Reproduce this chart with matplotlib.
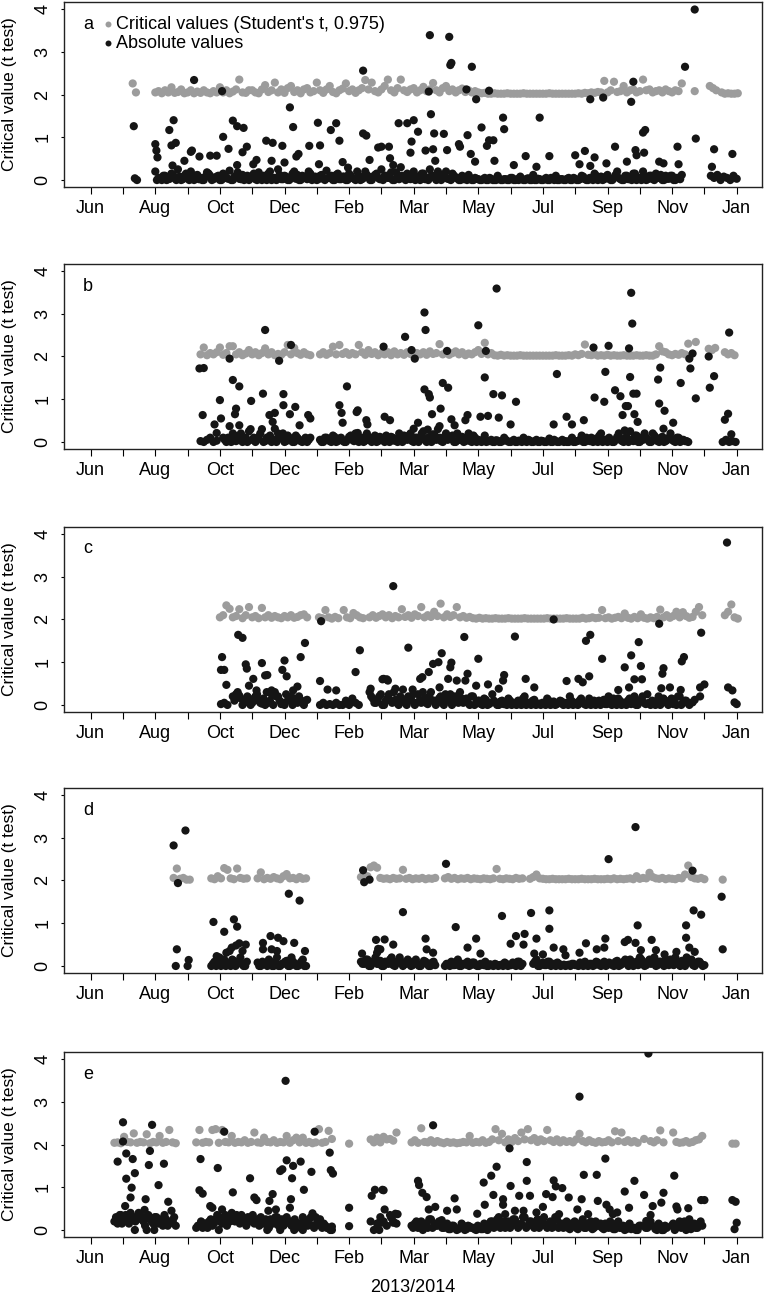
import matplotlib
matplotlib.use("Agg")
import matplotlib.pyplot as plt

plt.rcParams["font.family"] = ["Liberation Sans", "DejaVu Sans"]

GREY = "#9c9c9c"
BLACK = "#151515"

# x axis: days since the first tick ("Jun"), ticks every 30 days
TICK_DAYS = list(range(0, 601, 30))
TICK_LABELS = ["Jun", "", "Aug", "", "Oct", "", "Dec", "", "Feb", "", "Mar",
               "", "May", "", "Jul", "", "Sep", "", "Nov", "", "Jan"]
PANELS = ["a", "b", "c", "d", "e"]

# runs are (first day, values every 3 days); "-" = no value that day
# ── panel a ──────────────────────────────────────────────────────────────
GREY_A = [
    (39, "2.26 2.05"),
    (60, "2.05 2.08 2.03 2.1 2.05 2.17 2.04 2.06 2.12 2.03 "
         "2.05 2.1 2.03 2.07 2.04 2.1 2.05 2.03 2.08 2.05 "
         "2.17 2.05 2.1 2.03 2.07 2.12 2.35 2.05 2.04 2.1 "
         "2.1 2.05 2.03 2.12 2.22 2.06 2.1 2.28 2.05 2.12 "
         "2.04 2.15 2.2 2.06 2.1 2.03 2.12 2.15 2.05 2.08 "
         "2.28 2.1 2.04 2.12 2.2 2.06 2.03 2.1 2.14 2.26 "
         "2.08 2.12 2.04 2.1 2.15 2.34 2.12 2.28 2.08 2.05 "
         "2.12 2.2 2.35 2.1 2.05 2.15 2.35 2.1 2.06 2.12 "
         "2.15 2.05 2.1 2.18 2.08 2.12 2.27 2.1 2.05 2.15 "
         "2.2 2.08 2.12 2.05 2.1 2.14 2.06 2.1 2.05 2.08 "
         "2.05 2.03 2.04 2.02 2.02 2.03 2.02 2.02 2.02 2.03 "
         "2.02 2.02 2.02 2.02 2.03 2.02 2.02 2.02 2.02 2.02 "
         "2.02 2.02 2.03 2.02 2.02 2.02 2.02 2.02 2.02 2.02 "
         "2.02 2.03 2.02 2.04 2.03 2.05 2.04 2.06 2.05 2.32 "
         "2.05 2.1 2.3 2.06 2.08 2.2 2.05 2.1 2.12 2.05 "
         "2.08 2.35 2.1 2.12 2.05 2.08 2.1 2.05 2.12 2.08 "
         "2.05 2.1 2.08 2.26"),
    (561, "2.08"),
    (575, "2.2 2.15 2.1"),
    (586, "2.05 2.02 2.03 2.02 2.02 2.03"),
]
BLACK_A = [
    (60, ".2 .05 0 .1 .02 .15 .05 .25 0 .1 "
         ".05 .2 0 .12 .05 0 .18 .1 .02 .08 "
         "0 .15 .05 .22 0 .1 .03 .12 .05 0 "
         ".1 .02 .18 0 .08 .15 0 .05 .25 .02 "
         ".1 0 .05 .2 .12 0 .08 .02 .15 .05 "
         "0 .1 .03 .22 .05 0 .12 .02 .08 0 "
         ".15 .05 0 .1 .02 .2 .08 0 .12 .05 "
         ".25 .1 .05 .18 0 .12 .3 .05 .15 .02 "
         ".2 .08 0 .15 .05 .25 .1 0 .12 .05 "
         ".2 .02 .15 .05 0 .1 .03 .12 0 .05 "
         ".02 0 .05 0 .03 0 .1 0 .02 0 "
         ".05 0 .02 .08 0 .03 0 .12 0 .02 "
         "0 .05 0 .03 .1 0 .02 0 .05 0 "
         ".03 0 .1 .02 0 .05 .15 0 .08 .02 "
         ".12 0 .05 .2 .02 0 .1 .05 .15 0 "
         ".05 .2 0 .1 .02 .15 .05 0 .1 .03 "
         ".1 0 .05 .12"),
    (61.5, "0 .05 .1 0 .03 .12 0 .08 .02 .15 0 .05 .1 .02 0 .08 .15 0 .05 .1 "
           "0 .12 .03 0 .08 .18 .02 0 .1 .05 .15 0 .03 .1 0 .2 .05 0 .12 .02 "
           ".08 0 .15 .03 0 .1 .05 .2 0 .08 .02 .12 0 .05 .1 0 .15 .02 .08 0 "
           ".1 .03 .2 0 .05 .12 0 .08 .15 .02 0 .1 .05 0 .18 .02 .1 0 .05 .12 "
           "0 .08 .15 .02 0 .1 .05 .2 0 .12 .03 0 .1 .05 0 .02 0 .05 0 .03 "
           "0 .02 0 .05 0 0 .03 0 .02 0 .05 0 0 .02 0 .04 0 0 .03 0 "
           ".02 0 .05 0 0 .02 0 .03 0 .05 0 .02 .08 0 .05 0 .1 .02 0 .08 "
           ".03 0 .12 .05 0 .1 .02 0 .15 .05 0 .08 .02 .1 0 .05 .12 0 .03 .1 "
           "0 .05 .02"),
    (576, ".1 .05 .12 0 .08 .05 0 .1 .03"),
]
BLACK_A_PTS = [
    (40, 1.26), (41, 0.04), (43, 0.0), (60, 0.84), (61, 0.69), (62, 0.53),
    (73, 1.17), (77, 1.4), (75, 0.81), (79, 0.87), (76, 0.34), (87, 0.45),
    (93, 0.66), (94, 0.69), (96, 2.34), (101, 0.55), (111, 0.57), (117, 0.57),
    (122, 2.08), (123, 1.01), (128, 0.73), (132, 1.39), (136, 1.26), (142, 1.22),
    (141, 0.65), (145, 0.78), (136, 0.35), (151, 0.37), (154, 0.47), (163, 0.92),
    (169, 0.87), (168, 0.45), (178, 0.8), (180, 0.41), (185, 1.7), (188, 1.24),
    (191, 0.55), (193, 0.61), (203, 0.8), (211, 1.34), (213, 0.81), (212, 0.37),
    (223, 1.17), (228, 1.33), (231, 0.92), (234, 0.42), (239, 0.29), (253, 2.56),
    (253, 1.09), (256, 1.04), (259, 0.47), (267, 0.76), (270, 0.78), (277, 0.78),
    (278, 0.51), (281, 0.35), (286, 1.33), (294, 1.33), (300, 1.4), (304, 1.13),
    (298, 0.9), (297, 0.64), (311, 0.69), (314, 2.07), (315, 3.39), (316, 1.54),
    (318, 0.72), (319, 1.09), (320, 0.45), (328, 1.08), (331, 0.7), (333, 3.35),
    (334, 2.69), (335, 2.74), (342, 0.84), (343, 0.78), (349, 2.12), (350, 1.05),
    (354, 2.65), (353, 0.61), (358, 1.89), (357, 0.43), (363, 1.23), (368, 0.8),
    (370, 0.93), (370, 2.09), (374, 0.93), (375, 0.45), (383, 1.46), (384, 1.19),
    (393, 0.35), (404, 0.56), (414, 0.31), (417, 1.46), (426, 0.56), (450, 0.58),
    (454, 0.37), (459, 0.68), (464, 0.33), (464, 1.89), (468, 0.53), (476, 1.93),
    (479, 0.39), (487, 0.78), (498, 0.43), (502, 1.83), (504, 2.3), (506, 0.7),
    (507, 0.58), (513, 1.11), (515, 1.17), (514, 0.64), (528, 0.43), (532, 0.39),
    (545, 0.78), (546, 0.37), (552, 2.65), (561, 3.99), (562, 0.97), (579, 0.72),
    (577, 0.31), (596, 0.61),
]

# ── panel b ──────────────────────────────────────────────────────────────
GREY_B = [
    (102, "2.05 2.21 2.03 2.08 2.05 2.1 2.21 2.04 2.08 2.24 "
          "2.24 2.05 2.1 2.03 2.07 2.15 2.05 2.1 2.03 2.08 "
          "2.19 2.05 2.1 2.03 2.06 2.04 2.1 2.27 2.05 2.2 "
          "2.08 2.04 2.1 2.05 2.03"),
    (213, "2.05 2.1 2.04 2.08 2.23 2.05 2.27 2.06 2.1 2.04 "
          "2.08 2.05 2.27 2.1 2.04 2.15 2.06 2.1 2.03 2.08 "
          "2.05 2.1 2.03 2.12 2.05 2.08 2.04 2.1 2.06 2.03 "
          "2.08 2.05 2.1 2.04 2.12 2.06 2.08 2.29 2.05 2.1 "
          "2.04 2.08 2.12 2.05 2.1 2.03 2.07 2.05 2.1 2.15 "
          "2.06 2.32 2.05 2.08 2.03 2.02 2.04 2.02 2.03 2.02 "
          "2.02 2.02 2.03 2.02 2.02 2.02 2.02 2.02 2.02 2.02 "
          "2.02 2.02 2.02 2.03 2.02 2.02 2.02 2.03 2.02 2.05 "
          "2.03 2.06 2.28 2.04 2.03 2.05 2.02 2.03 2.02 2.04 "
          "2.02 2.03 2.02 2.02 2.03 2.02 2.02 2.02 2.03 2.02 "
          "2.02 2.03 2.02 2.02 2.05 2.24 2.12 2.1 2.05 2.03 "
          "2.06 2.04 2.08 2.05"),
    (555, "2.3"), (562, "2.34"),
    (574, "2.18 2.15 2.2"),
    (589, "2.1 2.05 2.08 2.03"),
]
BLACK_B = [
    (102, ".02 0 .05 .1 0 .03"),
    (123, ".1 0 .05 .2 .02 .15 0 .1 .25 .05 0 .12 .3 .02 .1 0 .05 .2 .08 0 "
          ".15 .05 0 .1 .02 .05 0 .1"),
    (124.5, ".05 .1 0 .15 .05 .2 .1 0 .3 .1 .05 .2 0 .1 .15 .05 0 .1 .2 .02 "
            ".1 0 .15 .05 0 .1 .05"),
    (213, ".05 0 .1 .02 .15 0 .08 .03 0 .12 "
          ".05 .2 0 .1 .03 .05 0 .15 .02 .1 "
          "0 .05 .12 .03 0 .1 .15 .05 .2 0 "
          ".1 .05 .25 0 .12 .18 .05 .1 0 .2 "
          ".08 .15 0 .05 .12 .02 .2 0 .1 .05 "
          "0 .15 .02 .05 0 .03 0 .1 .02 0 "
          ".05 0 .02 .1 0 .03 0 .05 0 .02 "
          "0 .08 0 .02 0 .05 .02 0 .1 0 "
          ".03 .15 0 .05 .1 .02 0 .2 .05 0 "
          ".03 0 .12 .05 0 .1 .25 .02 .15 0 "
          ".05 .1 0 .2 .05 0 .12 .02 .1 .05 "
          "0 .1 .05 .02 0"),
    (214.5, "0 .1 .05 0 .12 .02 .1 0 .05 .15 .02 .1 .05 0 .2 .1 .03 0 .12 .05 "
            ".15 0 .1 .05 .2 0 .08 .15 .02 .1 0 .2 .05 .1 0 .15 .3 .02 .12 .05 "
            ".1 0 .2 .05 0 .1 .02 .15 0 .03 .05 0 .02 0 .04 0 .02 .05 0 .02 "
            "0 .03 0 .02 .05 0 .02 0 .03 0 .02 0 .05 0 .02 0 0 .04 0 .02 "
            ".05 0 .1 .02 0 .08 .15 0 .05 .1 0 .05 .2 .02 .1 0 .05 .15 0 .1 "
            ".2 .05 0 .15 .02 .1 0 .05 .2 .02 .1 0 .05 .02"),
    (587, "0 .05 0 .02 0"),
]
BLACK_B_PTS = [
    (101, 1.72), (105, 1.73), (104, 0.63), (120, 0.98), (121, 0.55), (115, 0.41),
    (117, 0.21), (129, 1.95), (129, 0.37), (132, 1.45), (135, 0.78), (134, 0.65),
    (138, 1.3), (138, 0.39), (149, 0.96), (160, 1.13), (162, 2.62), (166, 0.63),
    (171, 0.68), (169, 0.47), (171, 0.31), (175, 1.9), (179, 1.12), (179, 0.86),
    (186, 2.27), (185, 0.65), (190, 0.82), (194, 0.39), (202, 0.63), (204, 0.55),
    (231, 0.86), (233, 0.68), (234, 0.45), (238, 1.3), (247, 0.7), (248, 0.74),
    (248, 0.21), (256, 0.51), (257, 0.41), (272, 2.23), (273, 0.59), (278, 0.51),
    (292, 2.46), (298, 2.15), (301, 1.95), (300, 0.31), (304, 0.45), (310, 3.03),
    (311, 2.62), (310, 1.23), (314, 1.12), (315, 1.04), (317, 0.65), (313, 0.29),
    (325, 0.78), (324, 0.37), (327, 1.38), (332, 1.27), (331, 2.13), (335, 0.53),
    (338, 0.39), (350, 0.63), (348, 0.51), (360, 2.73), (367, 2.13), (366, 1.51),
    (362, 0.59), (369, 0.61), (374, 1.12), (382, 1.09), (377, 3.59), (379, 0.57),
    (390, 0.41), (395, 0.94), (433, 1.59), (430, 0.41), (442, 0.59), (447, 0.41),
    (458, 0.51), (467, 2.21), (468, 1.04), (477, 0.94), (478, 1.64), (481, 2.25),
    (487, 1.21), (492, 1.07), (494, 0.63), (496, 0.27), (497, 0.84), (499, 0.84),
    (500, 2.19), (501, 1.52), (502, 3.49), (503, 2.77), (504, 1.13), (507, 1.13),
    (505, 0.65), (508, 0.47), (527, 1.46), (529, 1.74), (528, 0.9), (533, 0.73),
    (532, 0.31), (541, 0.45), (548, 1.38), (556, 1.95), (559, 2.07), (557, 1.72),
    (562, 1.02), (574, 2.0), (575, 1.27), (579, 1.54), (589, 0.52), (592, 0.66),
    (593, 2.56), (595, 0.18),
]

# ── panel c ──────────────────────────────────────────────────────────────
GREY_C = [
    (120, "2.05 2.1 2.33 2.25 2.05 2.08 2.24 2.03 2.1 2.29 "
          "2.05 2.08 2.03 2.27 2.05 2.1 2.04 2.08 2.05 2.03 "
          "2.08 2.05 2.1 2.04 2.06 2.1 2.12 2.05"),
    (212, "2.05 2.03 2.22 2.05 2.02 2.06 2.03"),
    (235, "2.22 2.05 2.03 2.15 2.1 2.05 2.03"),
    (259, "2.05 2.1 2.04 2.08 2.12 2.05 2.1 2.03 2.08 2.05 "
          "2.24 2.06 2.1 2.04 2.12 2.08 2.29 2.05 2.1 2.06 "
          "2.18 2.08 2.37 2.05 2.12 2.06 2.1 2.29 2.05 2.08 "
          "2.04 2.06 2.03 2.02 2.04 2.02 2.03 2.02 2.02 2.03 "
          "2.02 2.02 2.02 2.03 2.02 2.02 2.02 2.02 2.03 2.02 "
          "2.02 2.02 2.02 2.02 2.02 2.03 2.02 2.02 2.02 2.02 "
          "2.02 2.03 2.02 2.02 2.02 2.02 2.04 2.02 2.03 2.05 "
          "2.03 2.04 2.22 2.03 2.05 2.02 2.04 2.06 2.03 2.14 "
          "2.04 2.02 2.06 2.03 2.12 2.04 2.02 2.05 2.03 2.06 "
          "2.23 2.05 2.1 2.04 2.08 2.18 2.05 2.17 2.08 2.04 "
          "2.06 2.18 2.29 2.1"),
    (589, "2.1 2.18 2.35 2.05 2.02"),
]
BLACK_C = [
    (121, ".02 .05 0"),
    (132, ".2 .25 .22 0 .1 .15 .05 .2 .1 .03 0 .05 .25 .3 .2 .02 0 .1 .2 .15 "
          ".05 .1 0 .12"),
    (133.5, ".1 .3 .15 .05 .2 0 .1 .25 .05 .15 .3 .1 0 .2 .1 .05 .25 .15 0 .1 "
            ".2 .05 .1"),
    (213, "0 .05 0 .02 0 .05 0"),
    (234, "0 .1 0 .15 .05 0"),
    (259, ".3 .15 .05 .2 0 .1 .25 .05 .12 0 "
          ".15 .05 .2 .1 0 .25 .05 .15 .02 .3 "
          ".1 .05 .2 0 .15 .25 .05 .1 .3 .05 "
          ".15 0 .2 .05 .1 0 .12 .02 .25 .05 "
          "0 .1 .05 .15 0 .02 .1 0 .2 .05 "
          "0 .12 .02 0 .05 .15 0 .08 .02 .1 "
          "0 .05 .2 0 .02 .1 .05 0 .15 .02 "
          "0 .1 .05 .02 .2 0 .08 .15 0 .05 "
          ".1 .02 .2 0 .12 .05 .25 0 .05 .1 "
          "0 .15 .05 .1 .02 0 .2 .05 .1 0"),
    (260.5, ".2 .05 .1 .25 0 .15 .1 .3 .05 .2 .1 0 .15 .25 .05 .1 .3 .05 .2 .1 "
            "0 .15 .05 .25 .1 0 .2 .05 .15 .1 .05 .2 0 .1 .02 .15 0 .05 .1 0 "
            ".08 .02 0 .1 .05 0 .02 .15 0 .05 .1 0 .03 .05 0 .1 .02 0 .05 .08 "
            ".02 0 .1 .05 0 .15 .02 .05 0 .1 .05 0 .12 .02 .05 .15 0 .1 .05 0 "
            ".15 .05 0 .1 .2 .02 .05 .1 0 .2 .05 .1 0 .15 .05 .2 0 .1 .05"),
]
BLACK_C_PTS = [
    (122, 1.12), (121, 0.82), (124, 0.82), (126, 0.47), (137, 1.64), (141, 1.57),
    (144, 0.95), (145, 0.85), (151, 0.61), (147, 0.45), (154, 0.34), (159, 0.98),
    (162, 0.69), (164, 0.7), (168, 0.34), (172, 0.22), (178, 0.82), (180, 1.04),
    (182, 0.67), (188, 0.34), (192, 0.43), (195, 1.12), (199, 1.45), (214, 1.96),
    (213, 0.56), (220, 0.36), (228, 0.34), (246, 0.77), (250, 1.28), (260, 0.38),
    (271, 0.6), (276, 0.57), (281, 2.78), (272, 0.61), (275, 0.6), (283, 0.38),
    (290, 0.36), (299, 0.36), (295, 1.34), (306, 0.61), (308, 0.65), (314, 0.77),
    (318, 0.96), (323, 1.0), (326, 1.21), (324, 0.41), (334, 0.88), (335, 0.99),
    (332, 0.61), (340, 0.57), (348, 0.57), (350, 0.73), (347, 1.59), (360, 1.08),
    (358, 0.45), (369, 0.48), (379, 0.38), (384, 0.7), (383, 0.57), (394, 1.6),
    (404, 0.61), (412, 0.41), (430, 2.0), (442, 0.56), (453, 0.61), (457, 0.53),
    (463, 0.67), (460, 1.5), (464, 1.64), (475, 1.08), (490, 0.35), (496, 0.88),
    (500, 0.41), (502, 1.16), (505, 0.6), (509, 1.47), (511, 0.91), (512, 0.6),
    (528, 1.9), (531, 0.73), (532, 0.86), (530, 0.39), (538, 0.41), (549, 1.02),
    (551, 1.12), (548, 0.35), (559, 0.06), (561, 0.12), (566, 0.2), (566, 0.41),
    (570, 0.48), (567, 1.69), (591, 3.8), (592, 0.41), (596, 0.34), (598, 0.06),
    (600, 0.02),
]

# ── panel d ──────────────────────────────────────────────────────────────
GREY_D = [
    (77, "2.06 2.28 2.04 2.06 2.02 2.02"),
    (112, "2.05 2.03 2.1 2.05 2.29 2.25 2.05 2.03 2.28 2.06 2.04 2.05"),
    (155, "2.05 2.19 2.03 2.06 2.04 2.08 2.05 2.03 2.1 2.15 2.05 2.06 2.03 "
          "2.08 2.04 2.05"),
    (251, "2.08 2.05 2.1 2.31 2.35 2.3 2.06 2.04 2.05 2.03 2.06 2.04 2.05 "
          "2.25 2.04 2.06 2.03 2.05 2.04 2.06 2.03 2.05 2.04 2.06"),
    (329, "2.05 2.08 2.04 2.06 2.03 2.05 2.04 2.06 2.03 2.05 2.04 2.03 2.05 "
          "2.04 2.03 2.05 2.27 2.04 2.03 2.05 2.04 2.03 2.06 2.04 2.05"),
    (408, "2.04 2.08 2.14 2.05 2.04 2.03 2.03 2.04 2.03 2.03 "
          "2.03 2.03 2.04 2.03 2.03 2.03 2.04 2.03 2.03 2.03 "
          "2.04 2.03 2.03 2.03 2.04 2.03 2.05 2.03 2.04 2.03 "
          "2.04 2.05 2.03 2.1 2.04 2.06 2.05 2.18 2.08 2.05 "
          "2.04 2.06 2.03 2.05 2.04 2.03 2.06 2.05 2.14 2.35 "
          "2.08 2.05 2.04 2.06 2.03"),
    (587, "2.02"),
]
BLACK_D = [
    (112, "0 .1 .05 0 .15 .08 0 .12 .05 .2 0 .1"),
    (113.5, ".05 0 .2 .1 0 .05 .15 0 .1 .05 0"),
    (155, ".08 0 .05 0 .1 0 .2 0 .05 .12 0 .1 0 .05 .15 0"),
    (156.5, "0 .1 .05 .15 0 .08 0 .05 .1 0 .2 .05 0 .1 0"),
    (251, ".1 .05 .15 0 .1 .05 .12 0 .08 .15 .02 .1 .2 0 .05 .1 .02 .15 0 .05 "
          ".1 0 .08 .02"),
    (252.5, ".05 .15 0 .1 .2 .05 0 .1 .05 .2 0 .08 .1 .05 .15 0 .1 .05 0 .12 "
            ".05 0 .1"),
    (329, "0 .05 .1 .02 .15 0 .05 .1 .02 .08 0 .05 .02 0 .04 0 .03 .02 0 .05 "
          ".02 .08 0 .1 .05"),
    (330.5, ".05 0 .02 .1 0 .05 .03 0 .08 .02 0 .05 .1 0 .02 .05 0 .03 .08 0 "
            ".02 .05 .1 0"),
    (411, ".05 .15 0 .08 .02 .1 .03 0 .05 .02 "
          "0 .03 .05 .02 0 .04 .1 0 .05 .02 "
          ".08 0 .1 .03 .05 0 .12 .02 .1 .05 "
          ".15 0 .1 .2 .05 .02 .15 .08 0 .1 "
          ".05 .15 .02 .1 .2 .05 .12 0 .08 .15 "
          "0 .1 .05 .02"),
    (412.5, ".1 0 .05 .02 .1 0 .05 .08 0 .03 .02 0 .05 .02 .08 0 .02 .05 0 .1 "
            ".02 .05 0 .08 .02 .1 0 .05 .15 0 .1 .05 .02 .15 0 .1 .05 .2 .02 .1 "
            "0 .08 .15 .02 .1 0 .05 .2 .1 .02 .05 .1 0"),
]
BLACK_D_PTS = [
    (77, 2.82), (88, 3.17), (81, 1.94), (80, 0.39), (91, 0.14), (79, 0.0),
    (90, 0.0), (114, 1.03), (124, 0.8), (133, 1.09), (136, 0.92), (117, 0.23),
    (126, 0.31), (129, 0.35), (131, 0.43), (135, 0.48), (138, 0.53), (141, 0.35),
    (144, 0.5), (160, 0.54), (167, 0.7), (174, 0.66), (179, 0.58), (160, 0.39),
    (168, 0.39), (173, 0.35), (189, 0.54), (199, 0.35), (184, 1.69), (194, 1.53),
    (157, 0.06), (252, 0.29), (253, 2.24), (254, 1.96), (259, 2.02), (265, 0.61),
    (273, 0.62), (266, 0.31), (267, 0.4), (281, 0.5), (269, 0.39), (290, 1.26),
    (311, 0.64), (312, 0.39), (318, 0.31), (330, 2.39), (339, 0.91), (350, 0.43),
    (358, 0.64), (362, 0.29), (382, 1.17), (390, 0.52), (395, 0.7), (402, 0.5),
    (403, 0.75), (409, 1.24), (412, 0.29), (414, 0.64), (426, 1.3), (426, 0.87),
    (420, 0.27), (430, 0.43), (439, 0.39), (441, 0.25), (454, 0.31), (460, 0.53),
    (470, 0.39), (477, 0.43), (478, 0.64), (481, 2.5), (496, 0.56), (499, 0.61),
    (506, 0.54), (511, 0.37), (506, 3.25), (508, 0.95), (521, 0.61), (525, 0.37),
    (533, 0.27), (544, 0.33), (553, 0.66), (553, 0.95), (556, 0.43), (560, 1.3),
    (559, 2.23), (561, 0.33), (567, 1.2), (565, 0.09), (586, 1.62), (587, 0.39),
]

# ── panel e ──────────────────────────────────────────────────────────────
GREY_E = [
    (22, "2.04 2.05 2.03 2.18 2.06 2.05 2.26 2.04 2.06 2.05 2.24 2.03 2.06 "
         "2.05 2.2 2.04 2.06 2.34 2.05 2.03"),
    (98, "2.05 2.34 2.04 2.06 2.05 2.34 2.36 2.04 2.34 2.06 "
         "2.05 2.2 2.04 2.06 2.05 2.1 2.04 2.06 2.28 2.05 "
         "2.04 2.16 2.06 2.05 2.1 2.04 2.06 2.05 2.2 2.04 "
         "2.1 2.16 2.05 2.16 2.04 2.06 2.03 2.05 2.36 2.04 "
         "2.06 2.32 2.13"),
    (240, "2.02"),
    (260, "2.12 2.05 2.16 2.05 2.18 2.12 2.13 2.09 2.28"),
    (298, "2.05 2.1 2.04 2.38 2.06 2.05 2.1 2.04 2.08 2.05 "
          "2.03 2.06 2.04 2.05 2.03 2.04 2.06 2.05 2.2 2.04 "
          "2.06 2.05 2.1 2.04 2.06 2.12 2.36 2.1 2.25 2.05 "
          "2.12 2.06 2.15 2.08 2.28 2.12 2.36 2.1 2.15 2.06 "
          "2.12 2.08 2.34 2.1 2.06 2.12 2.05 2.1 2.06 2.08 "
          "2.05 2.12 2.25 2.08 2.05 2.1 2.06 2.04 2.08 2.05 "
          "2.06 2.1 2.05 2.31 2.08 2.28 2.06 2.1 2.05 2.08 "
          "2.04 - 2.13 - 2.08 2.05 2.1 2.33 2.05 - "
          "- 2.28 2.06 2.04 2.05 2.08 2.04 2.06 2.1 2.12 "
          "2.2"),
    (596, "2.02 2.02"),
]
BLACK_E = [
    (22, ".2 .15 .35 .3 .2 .4 .3 .25 .35 .2 .3 .25 .15 .3 .2 .1 .25 .15 .2 .1"),
    (23.5, ".3 .25 .2 .35 .15 .3 .2 .4 .25 .1 .35 .2 .3 .15 .25 .35 .1 .2 .3"),
    (98, ".05 .1 .05 .15 .2 .1 .25 .3 .15 .35 "
         ".3 .4 .2 .3 .35 .25 .3 .2 .15 .25 "
         ".3 .2 .1 .25 .15 .3 .2 .1 .3 .2 "
         ".1 .05 .15 .3 .2 .25 .1 .3 .15 .05 "
         ".1 .05 .08"),
    (99.5, ".1 .2 .15 .05 .25 .15 .35 .2 .25 .1 .2 .3 .35 .15 .2 .1 .25 .35 .2 .1 "
           ".15 .25 .05 .2 .3 .1 .25 .15 .2 .1 .25 .15 .05 .2 .1 .3 .05 .2 .1 .15 "
           ".05 0"),
    (260, ".2 0 .15 .3 .2 .1 .35 .2 .15"),
    (298, ".1 .15 .05 .2 .1 .05 .25 .15 .1 .2 "
          ".05 .15 .02 .1 0 .05 .1 .02 .08 .05 "
          "0 .05 .02 .1 .05 .2 .1 .3 .15 .05 "
          ".2 .1 .25 .05 .15 .3 .1 .2 .05 .25 "
          ".15 .3 .05 .2 .1 .25 .1 .05 .2 .02 "
          ".1 .05 .15 .25 .05 .1 .02 .2 .1 .05 "
          ".15 .05 .1 .02 .2 .05 0 .1 .02 .05 "
          "0 .1 - .05 .2 - 0 .1 0 .05 "
          "- .15 .05 .2 .1 0 .25 .1 .05 .15 "
          ".1"),
    (299.5, ".05 .2 .1 0 .15 .25 .05 .1 .2 .05 .1 .02 .1 .05 .02 .15 0 .1 .05 .02 "
            ".1 .02 .15 0 .2 .05 .25 .05 .2 .1 .05 .25 .15 .1 .3 .05 .2 .1 .15 .05 "
            ".2 .1 .15 .05 .3 .05 .15 .1 .05 .15 .2 .02 .1 .05 .15 .2 .05 .1 .15 .02 "
            ".1 .2 .02 .15 .05 .1 .02 .15 .05 0 .1 - .05 - .1 .02 .15 0 .1 - "
            ".1 0 .1 .05 .2 .1 .02 .15 .05 .2"),
]
BLACK_E_PTS = [
    (25, 1.6), (30, 2.52), (30, 2.07), (33, 1.79), (33, 1.2), (32, 0.56),
    (39, 1.66), (41, 1.33), (38, 0.99), (37, 0.76), (27, 0.35), (26, 0.21),
    (29, 0.15), (41, 0.0), (52, 0.0), (59, 0.0), (55, 1.85), (54, 1.52),
    (57, 2.46), (51, 0.72), (50, 0.47), (63, 1.05), (68, 1.55), (72, 0.66),
    (75, 0.45), (76, 0.21), (102, 1.66), (101, 0.93), (104, 0.85), (111, 0.56),
    (113, 0.52), (118, 1.45), (119, 0.0), (124, 2.3), (122, 0.48), (121, 0.29),
    (132, 0.88), (148, 1.21), (152, 0.76), (154, 0.7), (164, 0.0), (165, 0.45),
    (166, 0.68), (169, 0.84), (172, 0.48), (176, 1.38), (178, 1.42), (176, 0.0),
    (181, 3.49), (182, 1.63), (186, 0.72), (185, 0.52), (187, 1.21), (188, 1.5),
    (189, 0.0), (195, 1.6), (198, 0.94), (194, 0.15), (197, 0.0), (205, 1.36),
    (206, 0.39), (208, 2.3), (213, 0.25), (222, 1.81), (223, 1.4), (225, 1.32),
    (220, 0.05), (224, 0.0), (240, 0.52), (240, 0.09), (261, 0.8), (264, 0.94),
    (271, 0.94), (268, 0.0), (268, 0.17), (273, 0.48), (279, 0.29), (285, 0.37),
    (272, 0.93), (270, 0.17), (283, 0.38), (281, 0.17), (304, 1.15), (305, 1.05),
    (308, 0.87), (312, 0.77), (314, 0.48), (320, 0.54), (318, 2.45), (326, 0.23),
    (331, 0.45), (338, 0.74), (340, 0.48), (359, 0.38), (365, 1.11), (366, 0.59),
    (372, 1.27), (374, 0.82), (377, 1.48), (383, 0.72), (383, 0.59), (385, 0.37),
    (389, 1.91), (390, 1.03), (394, 0.45), (398, 0.8), (405, 1.59), (405, 1.15),
    (408, 0.8), (402, 0.45), (414, 0.41), (420, 0.54), (423, 0.84), (430, 1.16),
    (432, 1.02), (429, 0.77), (438, 0.98), (444, 0.76), (435, 0.37), (454, 3.12),
    (456, 0.72), (458, 1.29), (452, 0.48), (462, 0.37), (470, 1.29), (471, 0.68),
    (478, 1.67), (479, 0.59), (482, 0.48), (485, 0.37), (489, 0.41), (496, 0.9),
    (500, 0.52), (505, 1.15), (514, 0.82), (516, 0.21), (522, 0.56), (520, 0.35),
    (518, 4.13), (530, 0.64), (532, 0.87), (531, 0.0), (542, 1.27), (544, 0.55),
    (545, 0.48), (555, 0.51), (567, 0.7), (570, 0.7), (596, 0.7), (599, 0.66),
    (600, 0.17), (598, 0.02),
]

GREYS = [GREY_A, GREY_B, GREY_C, GREY_D, GREY_E]
BLACKS = [BLACK_A, BLACK_B, BLACK_C, BLACK_D, BLACK_E]
BLACK_PTS = [BLACK_A_PTS, BLACK_B_PTS, BLACK_C_PTS, BLACK_D_PTS, BLACK_E_PTS]


def runs_to_xy(runs, step=3):
    xs, ys = [], []
    for start, vals in runs:
        for k, tok in enumerate(vals.split()):
            if tok == "-":
                continue
            xs.append(start + step * k)
            ys.append(float(tok))
    return xs, ys


fig = plt.figure(figsize=(7.65, 12.98), dpi=100)
bottoms = [0.8559, 0.6541, 0.4515, 0.2504, 0.0470]

for i, letter in enumerate(PANELS):
    ax = fig.add_axes([0.0841, bottoms[i], 0.9124, 0.1425])

    gx, gy = runs_to_xy(GREYS[i])
    bx, by = runs_to_xy(BLACKS[i])
    bx += [p[0] for p in BLACK_PTS[i]]
    by += [p[1] for p in BLACK_PTS[i]]
    ax.scatter(gx, gy, s=35, color=GREY, edgecolors="none", zorder=2)
    ax.scatter(bx, by, s=35, color=BLACK, edgecolors="none", zorder=3)

    ax.set_xlim(-24.5, 623.8)
    ax.set_ylim(-0.164, 4.164)
    ax.set_xticks(TICK_DAYS)
    ax.set_xticklabels(TICK_LABELS)
    ax.set_yticks([0, 1, 2, 3, 4])
    # y labels centred about 21 px left of the frame, as in the original
    ax.set_yticklabels(["0", "1", "2", "3", "4"], rotation=90,
                       ha="center", va="center")
    ax.tick_params(axis="x", length=4.8, width=0.8, pad=4.6, labelsize=13)
    ax.tick_params(axis="y", length=2.2, width=0.8, pad=13.2, labelsize=13)
    for sp in ax.spines.values():
        sp.set_linewidth(1.0)
        sp.set_color("#222222")

    ax.set_ylabel("Critical value (t test)", fontsize=12.5, va="center")
    ax.yaxis.set_label_coords(-0.078, 0.5)
    ax.text(0.034, 0.881, letter, transform=ax.transAxes, fontsize=13,
            ha="center", va="center")

    if letter == "a":
        ax.plot([0.0626], [0.881], "o", ms=4.3, color=GREY, mec="none",
                transform=ax.transAxes)
        ax.plot([0.0626], [0.778], "o", ms=4.3, color=BLACK, mec="none",
                transform=ax.transAxes)
        ax.text(0.074, 0.881, "Critical values (Student's t, 0.975)",
                transform=ax.transAxes, fontsize=13, va="center")
        ax.text(0.074, 0.778, "Absolute values",
                transform=ax.transAxes, fontsize=13, va="center")

fig.text(413 / 765, 1 - 1288 / 1298, "2013/2014", ha="center", va="center",
         fontsize=13)

fig.savefig("out.png", dpi=100)
